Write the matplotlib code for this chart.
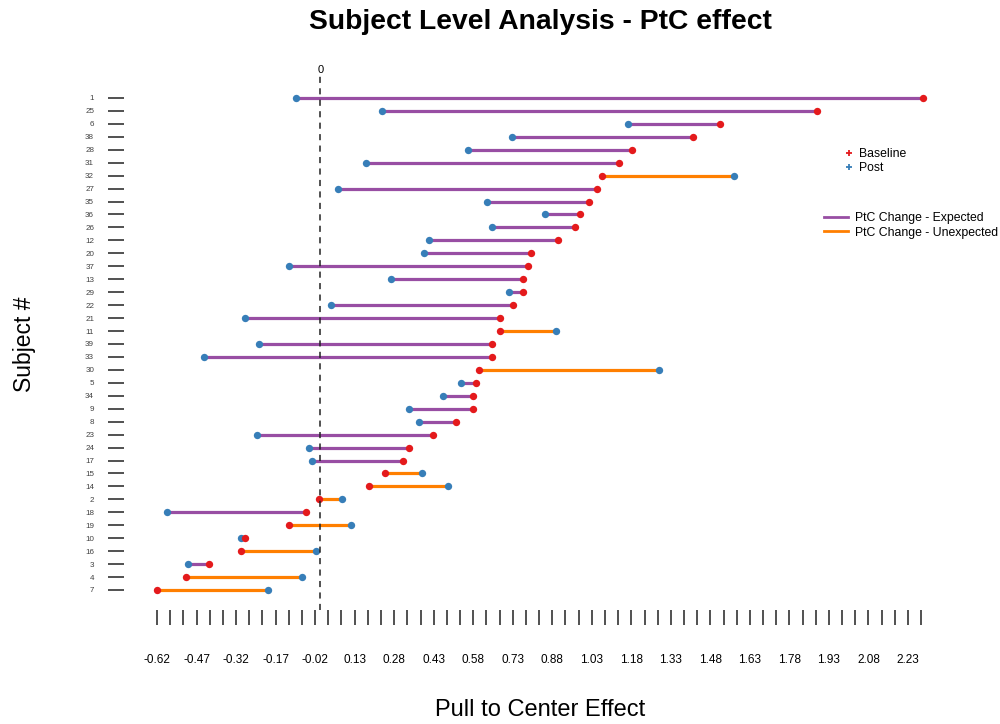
import numpy as np
import matplotlib
matplotlib.use("Agg")
import matplotlib.pyplot as plt
from matplotlib.lines import Line2D

plt.rcParams['font.family'] = ['Liberation Sans', 'DejaVu Sans']

# ---- data (top to bottom) ----
subjects = ['1', '25', '6', '38', '28', '31', '32', '27', '35', '36', '26', '12', '20',
            '37', '13', '29', '22', '21', '11', '39', '33', '30', '5', '34', '9', '8',
            '23', '24', '17', '15', '14', '2', '18', '19', '10', '16', '3', '4', '7']
baseline = [2.287, 1.884, 1.516, 1.415, 1.183, 1.135, 1.067, 1.049, 1.018, 0.984, 0.966,
            0.902, 0.798, 0.786, 0.769, 0.769, 0.732, 0.682, 0.682, 0.651, 0.651, 0.600,
            0.591, 0.581, 0.581, 0.515, 0.428, 0.335, 0.314, 0.246, 0.184, -0.004, -0.056,
            -0.120, -0.285, -0.302, -0.422, -0.509, -0.620]
post = [-0.091, 0.234, 1.169, 0.726, 0.561, 0.172, 1.570, 0.068, 0.631, 0.854, 0.651,
        0.414, 0.395, -0.120, 0.267, 0.716, 0.041, -0.285, 0.894, -0.234, -0.441, 1.284,
        0.534, 0.465, 0.335, 0.376, -0.240, -0.045, -0.033, 0.385, 0.484, 0.083, -0.581,
        0.118, -0.302, -0.017, -0.501, -0.070, -0.199]

x_tick_min = -0.62
x_tick_max = 2.28
x_tick_step = 0.05
x_label_step = 0.15

c_base = '#E41A1C'
c_post = '#377EB8'
c_exp = '#984EA3'
c_unexp = '#FF7F00'

# ---- figure ----
fig = plt.figure(figsize=(10, 7.24), dpi=100)
ax = fig.add_axes([0.124, 1 - 610 / 724, 0.816, (610 - 76) / 724])

n = len(subjects)
ypos = np.arange(n, 0, -1)

for y, b, p in zip(ypos, baseline, post):
    col = c_exp if p < b else c_unexp
    ax.plot([b, p], [y, y], color=col, lw=2.3, solid_capstyle='butt', zorder=2)
ax.scatter(post, ypos, s=28, color=c_post, zorder=3, linewidths=0)
ax.scatter(baseline, ypos, s=28, color=c_base, zorder=4, linewidths=0)

ax.axvline(0, color='#222222', lw=1.1, ls=(0, (4, 3.5)), zorder=5)

ax.set_xlim((124 - 320.4) / 263.5, (940 - 320.4) / 263.5)
ax.set_ylim(1 - 20 / 12.95, 1 + (590 - 76) / 12.95)

for s in ax.spines.values():
    s.set_visible(False)

all_ticks = np.round(np.arange(x_tick_min, x_tick_max + 1e-9, x_tick_step), 2)
label_ticks = np.round(np.arange(x_tick_min, x_tick_max + 1e-9, x_label_step), 2)
minor_ticks = [t for t in all_ticks if not np.any(np.isclose(t, label_ticks))]
ax.set_xticks(label_ticks)
ax.set_xticklabels([f"{t:.2f}" for t in label_ticks], fontsize=8.5)
ax.set_xticks(minor_ticks, minor=True)
ax.tick_params(axis='x', which='both', direction='out', length=11, width=1.1,
               color='#222222', pad=21)

ax.set_yticks(ypos)
ax.set_yticklabels(subjects, fontsize=5.8, color='#404040')
ax.tick_params(axis='y', which='both', direction='out', length=11.5, width=1.1,
               color='#222222', pad=10)

top = ax.secondary_xaxis('top')
top.set_xticks([0])
top.set_xticklabels(['0'], fontsize=8)
top.tick_params(length=0, pad=1.0)
for s in top.spines.values():
    s.set_visible(False)

fig.text(0.54, 1 - 22 / 724, 'Subject Level Analysis - PtC effect', ha='center',
         va='center', fontsize=20.3, fontweight='bold')
fig.text(0.025, 1 - 344 / 724, 'Subject #', rotation=90, ha='center', va='center',
         fontsize=16.5)
fig.text(0.54, 1 - 710 / 724, 'Pull to Center Effect', ha='center', va='center',
         fontsize=17)

h1 = [Line2D([], [], marker='+', ls='none', color=c_base, markersize=4, mew=1.3),
      Line2D([], [], marker='+', ls='none', color=c_post, markersize=4, mew=1.3)]
fig.legend(h1, ['Baseline', 'Post'], loc='upper left',
           bbox_to_anchor=(836 / 1000, 1 - 142 / 724), frameon=False, fontsize=8.8,
           handlelength=1.2, handletextpad=0.2, labelspacing=0.15, borderpad=0)

h2 = [Line2D([], [], color=c_exp, lw=2), Line2D([], [], color=c_unexp, lw=2)]
fig.legend(h2, ['PtC Change - Expected', 'PtC Change - Unexpected'], loc='upper left',
           bbox_to_anchor=(818 / 1000, 1 - 206 / 724), frameon=False, fontsize=8.8,
           handlelength=1.95, handletextpad=0.55, labelspacing=0.2, borderpad=0)

fig.savefig('out.png', dpi=100)
